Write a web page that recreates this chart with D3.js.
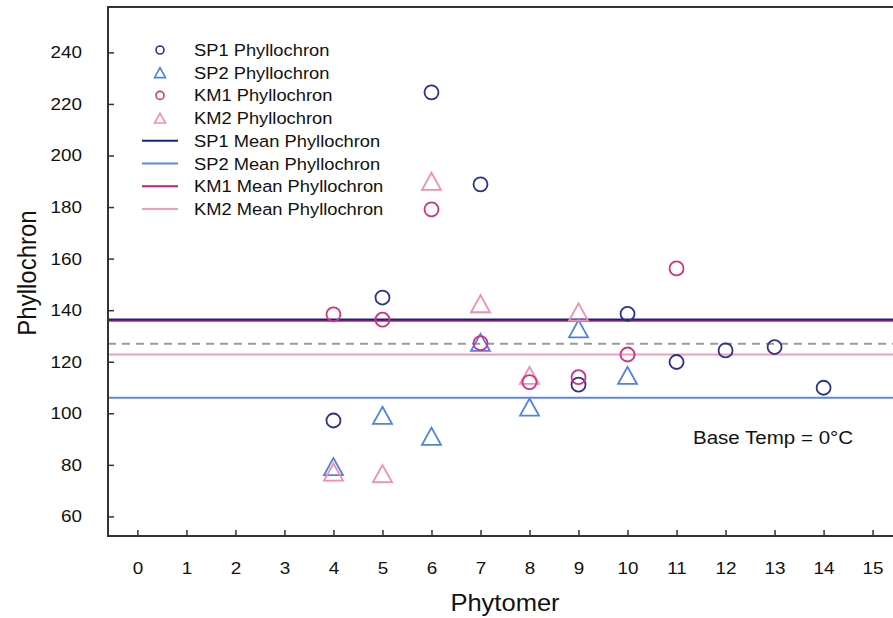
<!DOCTYPE html>
<html>
<head>
<meta charset="utf-8">
<script src="https://cdn.jsdelivr.net/npm/d3@7"></script>
<style>
  html, body { margin: 0; padding: 0; background: #fff; }
  svg { display: block; }
  text { font-family: "Liberation Sans", Arial, Helvetica, sans-serif; fill: #111; }
</style>
</head>
<body>
<svg id="chart" width="893" height="618"></svg>
<script>
// ---------------- DATA ----------------
const xTicks = [0,1,2,3,4,5,6,7,8,9,10,11,12,13,14,15];
const yTicks = [60,80,100,120,140,160,180,200,220,240];

const sp1X = [4,5,6,7,9,10,11,12,13,14];
const sp1Y = [97.2,144.9,224.5,188.8,111.1,138.6,119.9,124.4,125.7,109.9];

const sp2X = [4,5,6,7,8,9,10];
const sp2Y = [79.3,99.2,91.1,127.5,102.4,132.8,114.7];

const km1X = [4,5,6,7,8,9,10,11];
const km1Y = [138.4,136.3,179.1,127.2,112.1,114.0,122.8,156.2];

const km2X = [4,5,6,7,8,9];
const km2Y = [77.2,76.6,190.0,142.5,114.7,139.3];

const meanNames = ["SP1","SP2","KM1","KM2"];
const meanValues = [136.4,106.0,135.9,122.8];
const overallMean = [127.0];

const legendLabels = ["SP1 Phyllochron","SP2 Phyllochron","KM1 Phyllochron","KM2 Phyllochron",
  "SP1 Mean Phyllochron","SP2 Mean Phyllochron","KM1 Mean Phyllochron","KM2 Mean Phyllochron"];
const annotation = "Base Temp = 0°C";

// ---------------- STYLE ----------------
const colSP1 = "#2b318f", colSP2 = "#4f80ee", colKM1 = "#d5307f", colKM2 = "#f78cb0";
const lineSP1 = "#1e1f86", lineSP2 = "#5a86ee", lineKM1 = "#c51f73", lineKM2 = "#f79bbb";
const SX = 1.11; // horizontal text stretch

const svg = d3.select("#chart");
const L = 108, R = 902, T = 7, B = 536;

const x = d3.scaleLinear().domain([-0.6, 15.6]).range([L, R]);
const y = d3.scaleLinear().domain([52.4, 257.6]).range([B, T]);

function stext(parent, px, py, str, size, anchor) {
  return parent.append("text")
    .attr("transform", `translate(${px},${py}) scale(${SX},1)`)
    .attr("text-anchor", anchor || "start")
    .attr("font-size", size).text(str);
}

const plot = svg.append("g");
plot.append("clipPath").attr("id","clip").append("rect")
  .attr("x", L).attr("y", T).attr("width", R-L).attr("height", B-T);

const inner = plot.append("g").attr("clip-path","url(#clip)");

// overall mean dashed
inner.selectAll(".om").data(overallMean).enter().append("line")
  .attr("x1", L).attr("x2", R).attr("y1", d=>y(d)).attr("y2", d=>y(d))
  .attr("stroke", "#9a9a9a").attr("stroke-width", 2).attr("stroke-dasharray", "8,6");

const meanColors = [lineSP1, lineSP2, lineKM1, lineKM2];
[3,1,2,0].forEach(i => {
  inner.append("line")
    .attr("x1", L).attr("x2", R).attr("y1", y(meanValues[i])).attr("y2", y(meanValues[i]))
    .attr("stroke", meanColors[i]).attr("stroke-width", 2);
});

function triPath(s) {
  const h = s * 0.9;
  return `M0,${-h/2} L${s/2},${h/2} L${-s/2},${h/2} Z`;
}

function circles(xs, ys, color) {
  inner.append("g").selectAll("circle").data(xs.map((d,i)=>[d, ys[i]])).enter().append("circle")
    .attr("cx", d=>x(d[0])).attr("cy", d=>y(d[1])).attr("r", 7)
    .attr("fill","none").attr("stroke", color).attr("stroke-width", 1.8);
}
function triangles(xs, ys, color) {
  inner.append("g").selectAll("path").data(xs.map((d,i)=>[d, ys[i]])).enter().append("path")
    .attr("transform", d=>`translate(${x(d[0])},${y(d[1])})`)
    .attr("d", triPath(19))
    .attr("fill","none").attr("stroke", color).attr("stroke-width", 1.8).attr("stroke-linejoin","miter");
}
triangles(sp2X, sp2Y, colSP2);
triangles(km2X, km2Y, colKM2);
circles(sp1X, sp1Y, colSP1);
circles(km1X, km1Y, colKM1);

// frame
plot.append("path")
  .attr("d", `M${R+20},${T} L${L},${T} L${L},${B} L${R+20},${B}`)
  .attr("fill","none").attr("stroke","#333").attr("stroke-width",2);

// axes ticks (inward)
const xAxis = d3.axisBottom(x).tickValues(xTicks).tickSize(-6).tickPadding(26).tickFormat(d3.format("d"));
const gx = svg.append("g").attr("transform", `translate(0,${B})`).call(xAxis);
gx.select(".domain").remove();
gx.selectAll(".tick line").attr("stroke","#333").attr("stroke-width",1.5);
gx.selectAll(".tick text").attr("font-size", 17).attr("font-family","Liberation Sans, Arial, sans-serif")
  .attr("fill","#111").attr("transform", `scale(${SX},1)`);

const yAxis = d3.axisLeft(y).tickValues(yTicks).tickSize(-6).tickPadding(26).tickFormat(d3.format("d"));
const gy = svg.append("g").attr("transform", `translate(${L},0)`).call(yAxis);
gy.select(".domain").remove();
gy.selectAll(".tick line").attr("stroke","#333").attr("stroke-width",1.5);
gy.selectAll(".tick text").attr("font-size", 17).attr("font-family","Liberation Sans, Arial, sans-serif")
  .attr("fill","#111").attr("x", -26/SX).attr("transform", `scale(${SX},1)`);

// axis titles
stext(svg, 505, 611, "Phytomer", 23, "middle");
svg.append("text").attr("transform","translate(36,273) rotate(-90) scale(1,1.06)").attr("text-anchor","middle")
  .attr("font-size", 24).text("Phyllochron");

// annotation
stext(svg, 693, 444, annotation, 18.5, "start");

// legend
const legTop = 50, legStep = 22.7, symX = 160, txtX = 194;
const legColors = [colSP1, colSP2, colKM1, colKM2, lineSP1, lineSP2, lineKM1, lineKM2];
const leg = svg.append("g");
legendLabels.forEach((lab, i) => {
  const cy = legTop + i*legStep;
  if (i < 4) {
    if (i % 2 === 0) {
      leg.append("circle").attr("cx", symX).attr("cy", cy).attr("r", 4)
        .attr("fill","none").attr("stroke", legColors[i]).attr("stroke-width", 1.6);
    } else {
      leg.append("path").attr("transform", `translate(${symX},${cy})`).attr("d", triPath(11))
        .attr("fill","none").attr("stroke", legColors[i]).attr("stroke-width", 1.6);
    }
  } else {
    leg.append("line").attr("x1", 142).attr("x2", 178).attr("y1", cy).attr("y2", cy)
      .attr("stroke", legColors[i]).attr("stroke-width", 2);
  }
  stext(leg, txtX, cy + 6, lab, 16.5, "start");
});
</script>
</body>
</html>
